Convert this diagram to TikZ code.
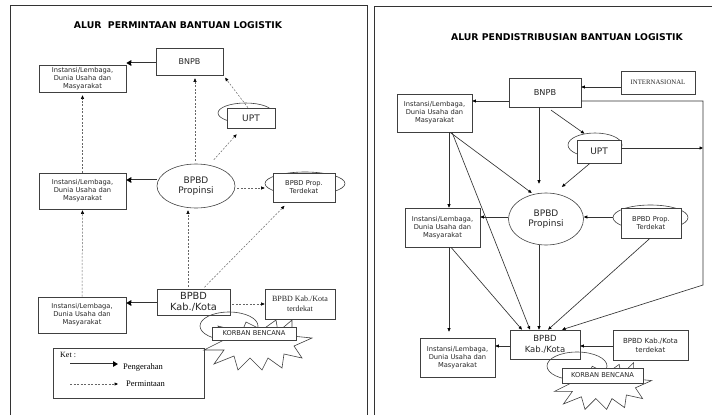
\documentclass[tikz,border=0pt]{standalone}
\usepackage{fontspec}
\setmainfont{DejaVu Sans}
\newfontfamily\serf{Liberation Serif}
\usetikzlibrary{arrows.meta,shapes.geometric}
\begin{document}
\begin{tikzpicture}[x=1pt,y=-1pt,
  box/.style={draw=black!75, line width=0.6pt, fill=white, inner sep=0pt, align=center,
    font=\fontsize{6.7}{8}\selectfont, text=black!85},
  oval/.style={draw=black!75, line width=0.6pt, ellipse, inner sep=0pt, align=center, text=black!85},
  big/.style={font=\fontsize{9}{10.5}\selectfont},
  ttl/.style={font=\fontsize{9.3}{11}\selectfont\bfseries, text=black},
  dsh/.style={draw=black!60, line width=0.5pt, dash pattern=on 2pt off 1.5pt,
    -{Triangle[length=3.5pt,width=3pt,color=black]}},
  dbl/.style={draw=black!80, line width=2.1pt,
    -{Triangle[length=5pt,width=5.5pt,color=black]},
    postaction={draw=white, line width=0.8pt, shorten >=5pt, -}},
  sol/.style={draw=black!80, line width=0.65pt,
    -{Triangle[length=3.5pt,width=3pt,color=black]}},
  frame/.style={draw=black!80, line width=0.9pt},
  burst/.style={draw=black!75, line width=0.6pt, fill=white},
  serifbox/.style={box, font=\serf\fontsize{8}{10}\selectfont}
]
\useasboundingbox (0,0) rectangle (720,415);

% panel frames
\draw[frame] (10,415) -- (10,5) -- (367,5) -- (367,415);
\draw[frame] (374,415) -- (374,6) -- (712,6);

% ===================== LEFT PANEL =====================
\node[ttl] (t1) at (178,25) {ALUR\ \ PERMINTAAN BANTUAN LOGISTIK};

\node[box, minimum width=87pt, minimum height=27pt] (inst1) at (82.5,78.5) {Instansi/Lembaga,\\Dunia Usaha dan\\Masyarakat};
\node[box, font=\fontsize{8}{10}\selectfont, minimum width=67pt, minimum height=27pt] (bnpbL) at (189.5,61.5) {BNPB};

\node[oval, minimum width=55pt, minimum height=20pt] (uptLe) at (245.5,113) {};
\node[box, font=\fontsize{9}{10}\selectfont, minimum width=48pt, minimum height=20pt] (uptL) at (251,118) {UPT};

\node[box, minimum width=87pt, minimum height=36pt] (inst2) at (82.5,191) {Instansi/Lembaga,\\Dunia Usaha dan\\Masyarakat};
\node[oval, big, minimum width=78pt, minimum height=44pt] (propL) at (196,186) {BPBD\\Propinsi};

\node[oval, minimum width=80pt, minimum height=23pt] (tdkLe) at (305,183.5) {};
\node[box, minimum width=62pt, minimum height=29pt] (tdkL) at (304,187.5) {BPBD Prop.\\Terdekat};

\node[box, minimum width=88pt, minimum height=36pt] (inst3) at (82,315) {Instansi/Lembaga,\\Dunia Usaha dan\\Masyarakat};
\node[box, font=\fontsize{9.8}{11}\selectfont, minimum width=73pt, minimum height=26pt] (kabL) at (193.5,302) {BPBD\\Kab./Kota};
\node[serifbox, minimum width=70pt, minimum height=30pt] (kabtdkL) at (300,304) {BPBD Kab./Kota\\terdekat};

% korban bencana (left)
\begin{scope}[shift={(258,344)}]
\draw[burst] (-54,6) -- (-34,6) -- (-44,20) -- (-24,12) -- (-20,26) -- (-8,14) -- (4,26) -- (10,14) -- (24,24) -- (26,10) -- (44,14) -- (36,2) -- (54,-6) -- (34,-8) -- (34,-24) -- (20,-12) -- (18,-24) -- (4,-14) -- (-12,-22) -- (-16,-12) -- (-40,-18) -- (-34,-4) -- cycle;
\end{scope}
\node[oval, minimum width=58pt, minimum height=28pt] (korLe) at (229,326) {};
\node[box, font=\fontsize{6.7}{8}\selectfont, minimum width=84pt, minimum height=13pt] (korL) at (254,333.5) {KORBAN BENCANA};

% left connectors
\draw[dbl] (bnpbL.west |- 0,63) -- (inst1.east |- 0,63);
\draw[dsh, shorten >=3pt] (uptL.north -| 248,0) -- (bnpbL.south east);
\draw[dsh, shorten <=7pt, shorten >=8pt] (propL.58) -- (uptL.south -| 242,0);
\draw[dsh, shorten <=3pt, shorten >=3pt] (propL.north -| 195,0) -- (bnpbL.south -| 195,0);
\draw[dsh, shorten >=3pt] (inst2.north) -- (inst1.south);
\draw[dbl] (propL.west |- 0,180) -- (inst2.east |- 0,180);
\draw[dsh, shorten <=2pt] (propL.east |- 0,188) -- (tdkLe.west |- 0,188);
\draw[dsh, shorten <=2pt, shorten >=5pt] (kabL.north -| 203,0) -- (tdkL.south -| 288,0);
\draw[dsh, shorten <=2pt, shorten >=2pt] (kabL.north -| 188,0) -- (propL.south -| 188,0);
\draw[dsh, shorten >=1pt] (inst3.north) -- (inst2.south);
\draw[dbl] (kabL.west |- 0,303) -- (inst3.east |- 0,303);
\draw[dsh, shorten <=2pt] (kabL.east |- 0,304) -- (kabtdkL.west |- 0,304);

% legend
\node[draw=black!75, line width=0.6pt, minimum width=151pt, minimum height=50pt, inner sep=0pt] (leg) at (128.5,373) {};
\node[anchor=west, font=\serf\fontsize{8}{9}\selectfont, inner sep=0pt] (ket) at (60,355) {Ket :};
\coordinate (l1a) at (70,364);
\coordinate (l1b) at (118,364);
\draw[dbl] (l1a) -- (l1b);
\node[anchor=west, font=\serf\fontsize{8.5}{10}\selectfont, inner sep=0pt] (peng) at (123,367) {Pengerahan};
\coordinate (l2a) at (70,384);
\coordinate (l2b) at (118,384);
\draw[dsh] (l2a) -- (l2b);
\node[anchor=west, font=\serf\fontsize{8.5}{10}\selectfont, inner sep=0pt] (perm) at (126,384) {Permintaan};

% ===================== RIGHT PANEL =====================
\node[ttl] (t2) at (567,37) {ALUR PENDISTRIBUSIAN BANTUAN LOGISTIK};

\node[box, font=\fontsize{8.2}{10}\selectfont, minimum width=72pt, minimum height=29pt] (bnpbR) at (545,92.5) {BNPB};
\node[box, font=\serf\fontsize{6.8}{8}\selectfont, minimum width=74pt, minimum height=23pt] (intl) at (658,82.5) {INTERNASIONAL};
\node[box, minimum width=75pt, minimum height=38pt] (instR1) at (434.5,113) {Instansi/Lembaga,\\Dunia Usaha dan\\Masyarakat};

\node[oval, minimum width=54pt, minimum height=24pt] (uptRe) at (595,145) {};
\node[box, font=\fontsize{9}{10}\selectfont, minimum width=44pt, minimum height=23pt] (uptR) at (599,151.5) {UPT};

\node[oval, big, minimum width=75pt, minimum height=52pt] (propR) at (546,219) {BPBD\\Propinsi};
\node[box, minimum width=75pt, minimum height=39pt] (instR2) at (442.5,227.5) {Instansi/Lembaga,\\Dunia Usaha dan\\Masyarakat};

\node[oval, minimum width=75pt, minimum height=25pt] (tdkRe) at (650.5,217.5) {};
\node[box, minimum width=60pt, minimum height=30pt] (tdkR) at (651,223) {BPBD Prop.\\Terdekat};

\node[box, font=\fontsize{8.5}{10.5}\selectfont, minimum width=70pt, minimum height=29pt] (kabR) at (545,344.5) {BPBD\\Kab./Kota};
\node[box, minimum width=75pt, minimum height=39pt] (instR3) at (457.5,357.5) {Instansi/Lembaga,\\Dunia Usaha dan\\Masyarakat};
\node[box, font=\fontsize{7}{9}\selectfont, minimum width=75pt, minimum height=30pt] (kabtdkR) at (650.5,345) {BPBD Kab./Kota\\terdekat};

% korban bencana (right)
\begin{scope}[shift={(603,386)}, xscale=0.9, yscale=0.9]
\draw[burst] (-54,6) -- (-34,6) -- (-44,20) -- (-24,12) -- (-20,26) -- (-8,14) -- (4,26) -- (10,14) -- (24,24) -- (26,10) -- (44,14) -- (36,2) -- (54,-6) -- (34,-8) -- (34,-26) -- (20,-12) -- (18,-24) -- (4,-14) -- (-12,-22) -- (-16,-12) -- (-40,-18) -- (-34,-4) -- cycle;
\end{scope}
\node[oval, minimum width=60pt, minimum height=28pt] (korRe) at (577,366) {};
\node[box, font=\fontsize{6.7}{8}\selectfont, minimum width=81pt, minimum height=15pt] (korR) at (602.5,375.5) {KORBAN BENCANA};

% right connectors
\coordinate (rv1) at (703,101);
\coordinate (rv2) at (703,285);
\coordinate (rv3) at (703,148);
\draw[sol] (intl.west |- 0,87) -- (bnpbR.east |- 0,87);
\draw[sol] (bnpbR.west |- 0,101) -- (instR1.east |- 0,101);
\draw[sol] (bnpbR.east |- 0,101) -- (rv1) -- (rv2) -- (kabR.north -| 562,0);
\draw[sol] (uptR.east |- 0,148) -- (rv3);
\draw[sol, shorten <=5pt] (bnpbR.south -| 547,0) -- (uptRe.133);
\draw[sol, shorten >=9pt] (bnpbR.south -| 539,0) -- (propR.north -| 539,0);
\draw[sol, shorten >=9pt] (uptR.south -| 590,0) -- (propR.north -| 555,0);
\draw[sol] (instR1.south) ++(14.5,0) -- (instR2.north -| 449,0);
\draw[sol, shorten >=2pt] (instR1.south -| 450,0) -- (propR.117);
\draw[sol] (instR1.south -| 452,0) -- (kabR.north -| 530,0);
\draw[sol, shorten >=6pt] (instR2.south -| 449,0) -- (instR3.north -| 449,0);
\draw[sol] (instR2.south -| 451,0) -- (kabR.north -| 522,0);
\draw[sol] (propR.south -| 539,0) -- (kabR.north -| 539,0);
\draw[sol] (tdkR.south -| 650,0) -- (kabR.north -| 548,0);
\draw[sol] (kabR.west |- 0,346) -- (instR3.east |- 0,346);
\draw[sol] (kabtdkR.west |- 0,346) -- (kabR.east |- 0,346);
\draw[sol] (tdkRe.west |- 0,217) -- (propR.east |- 0,217);
\draw[sol] (propR.west |- 0,217) -- (instR2.east |- 0,217);
\end{tikzpicture}
\end{document}
